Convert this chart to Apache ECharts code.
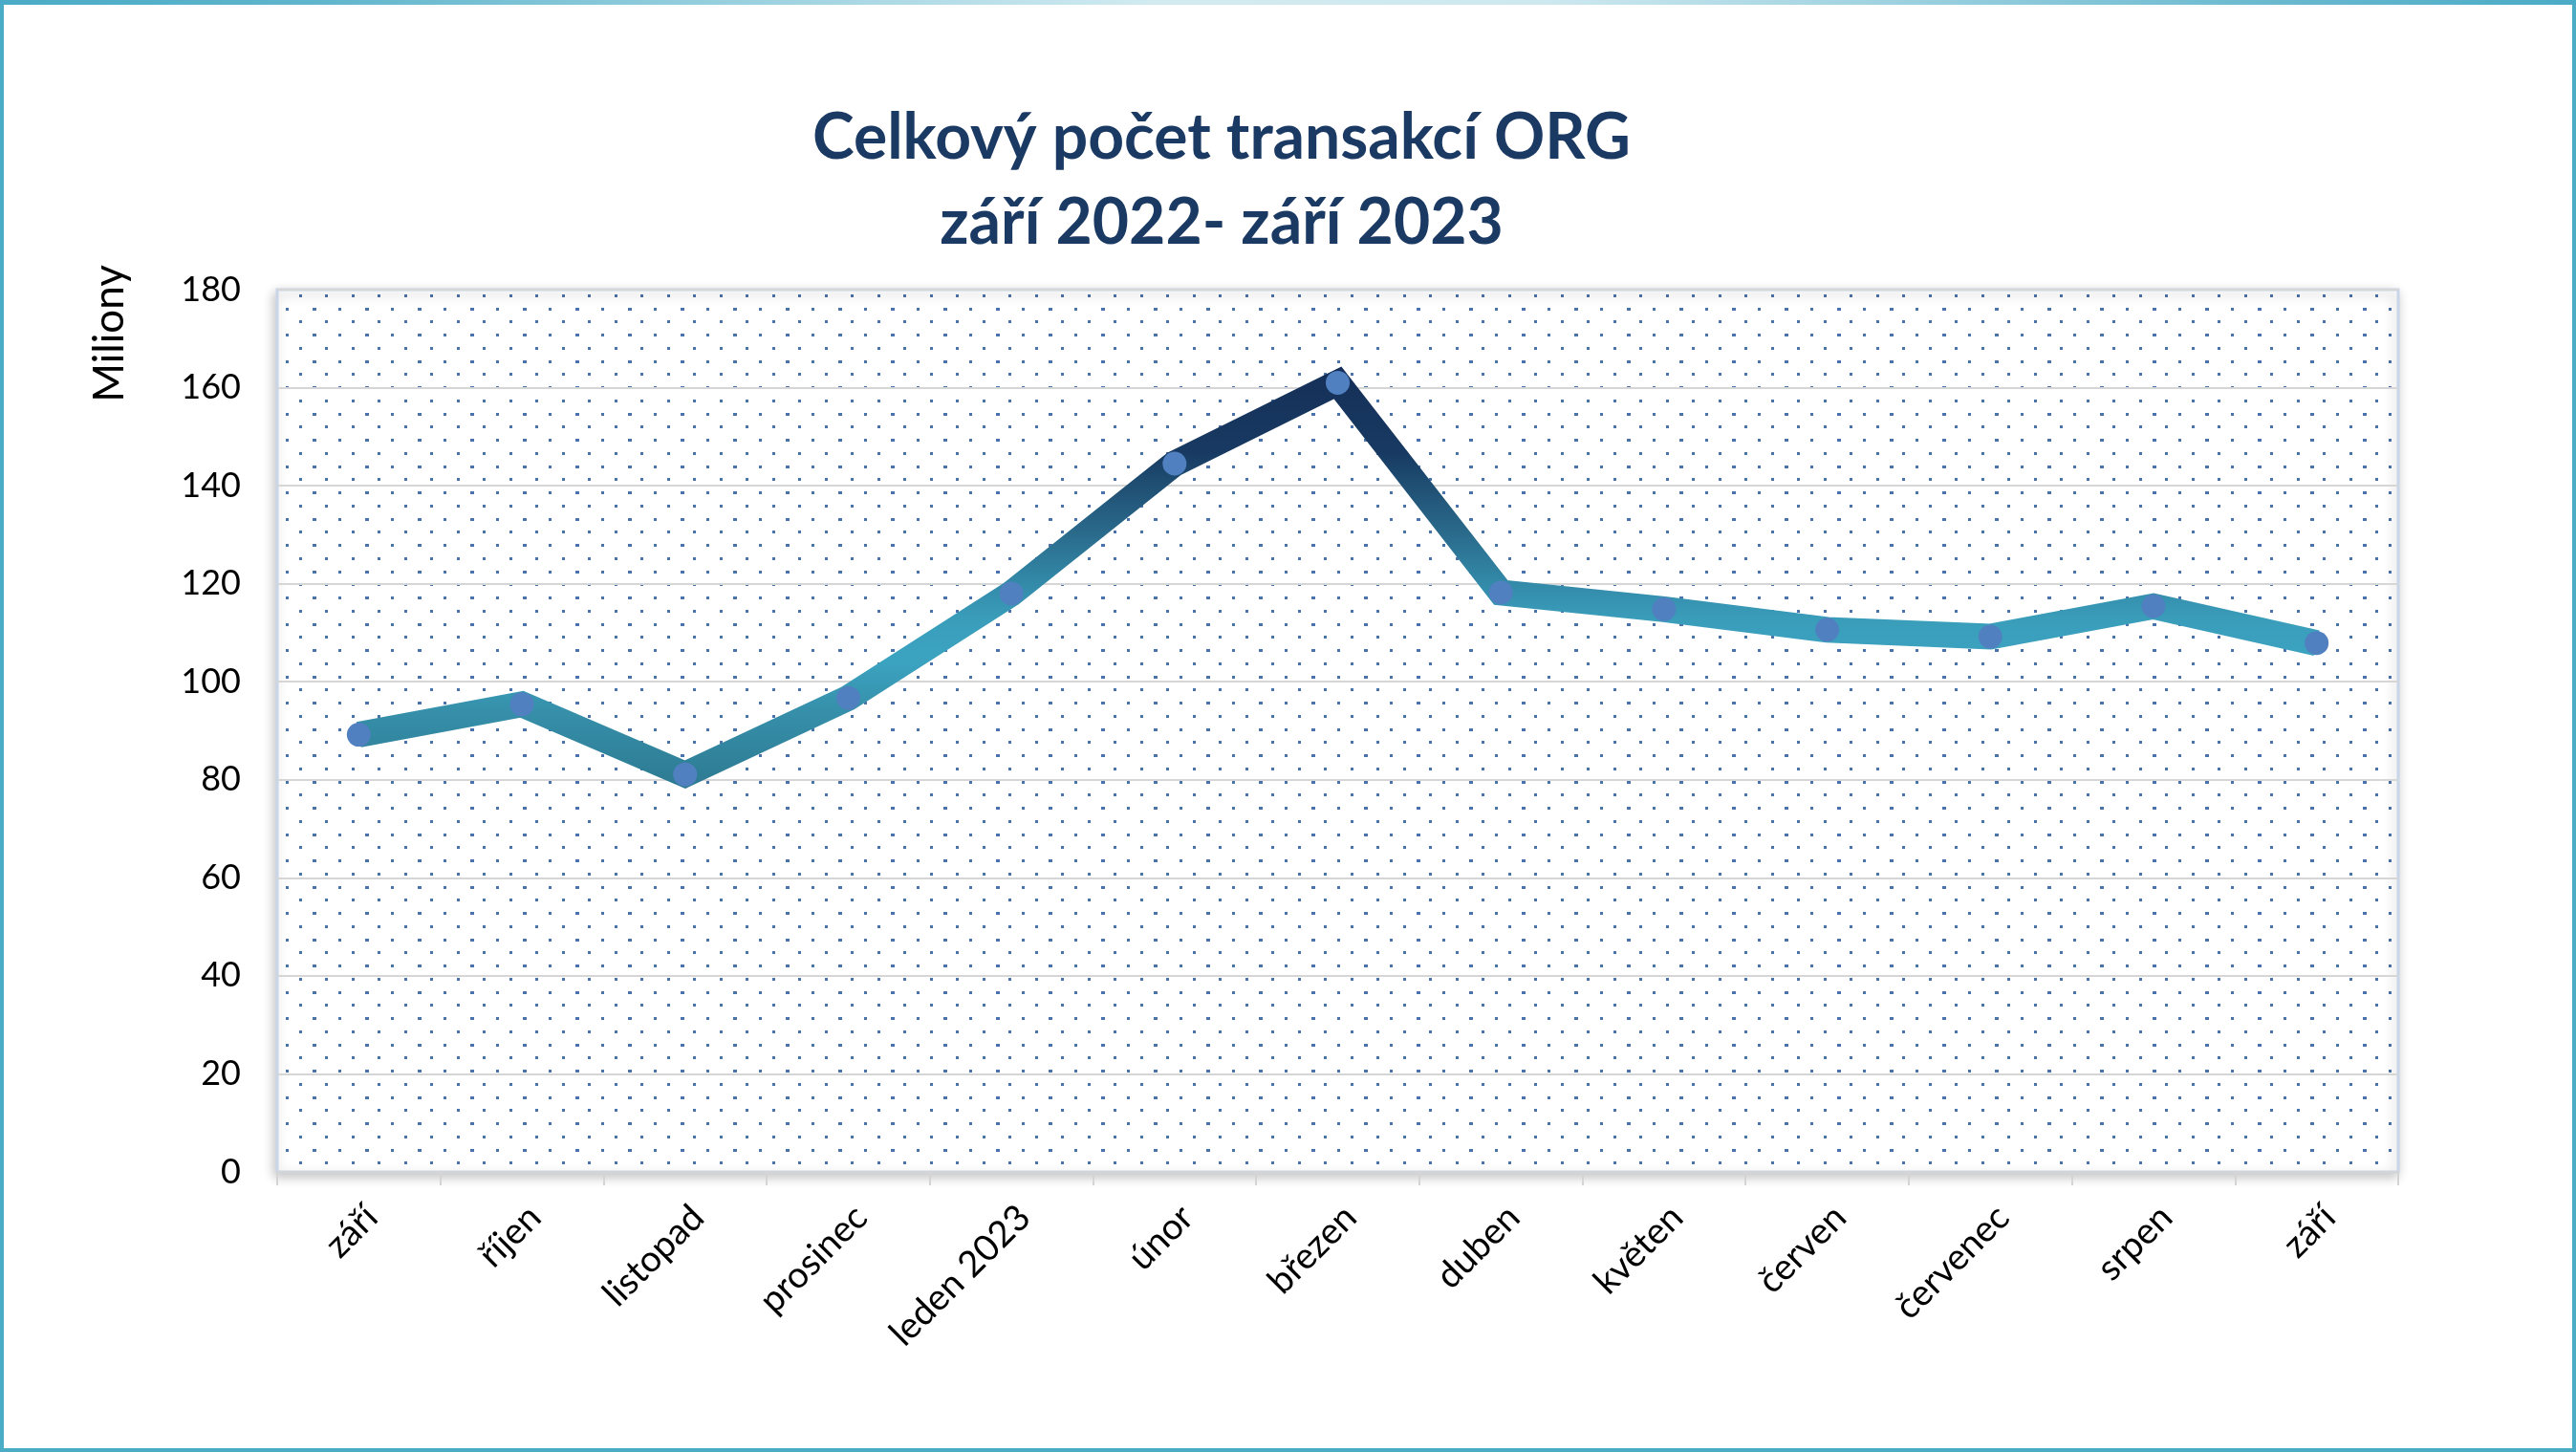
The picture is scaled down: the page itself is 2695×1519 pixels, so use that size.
<!DOCTYPE html>
<html>
<head>
<meta charset="utf-8">
<script src="https://cdn.jsdelivr.net/npm/echarts@6/dist/echarts.min.js"></script>
<style>
html,body{margin:0;padding:0;background:#fff;}
#c{width:2695px;height:1519px;}
</style>
</head>
<body>
<div id="c"></div>
<script>
const titleLines = ['Celkový počet transakcí ORG', 'září 2022- září 2023'];
const yAxisName = 'Miliony';
const categories = ['září','říjen','listopad','prosinec','leden 2023','únor','březen','duben','květen','červen','červenec','srpen','září'];
const values = [89.2, 95.4, 81.1, 96.7, 118.0, 144.5, 161.0, 118.2, 114.8, 110.6, 109.2, 115.4, 107.9];
const yMin = 0, yMax = 180, yStep = 20;

// dotted pattern tile
const tile = document.createElement('canvas');
tile.width = 55; tile.height = 55;
const tc = tile.getContext('2d');
tc.fillStyle = '#fff';
tc.fillRect(0,0,55,55);
tc.fillStyle = '#4a72ab';
const pts = [[11.8,6.8],[39.3,6.8],[25.55,20.55],[53.05,20.55],[11.8,34.3],[39.3,34.3],[25.55,48.05],[53.05,48.05]];
pts.forEach(p => { tc.fillRect(Math.round(p[0]-1.5), Math.round(p[1]-1.5), 3, 3); });
tc.fillRect(-1, Math.round(20.55-1.5), 2, 3);
tc.fillRect(-1, Math.round(48.05-1.5), 2, 3);

const chart = echarts.init(document.getElementById('c'), null, {renderer:'canvas'});
const lineGrad = new echarts.graphic.LinearGradient(0, 0, 0, 1, [
  {offset: 0, color: '#152f58'},
  {offset: 0.2, color: '#183a62'},
  {offset: 0.26, color: '#1e4b70'},
  {offset: 0.39, color: '#2a6a8b'},
  {offset: 0.5, color: '#3287a6'},
  {offset: 0.6, color: '#3a9ebb'},
  {offset: 0.7, color: '#3ba3c0'},
  {offset: 0.82, color: '#368fa9'},
  {offset: 1, color: '#2d7a92'}
]);
const option = {
  backgroundColor: '#ffffff',
  animation: false,
  title: {
    text: titleLines.join('\n'),
    left: 1273,
    top: 95,
    textAlign: 'center',
    textStyle: {
      fontFamily: 'Lato',
      fontWeight: 'bold',
      fontSize: 66,
      lineHeight: 89,
      color: '#1b3a63'
    }
  },
  grid: {
    left: 290, top: 303, right: 186, bottom: 293,
    show: true,
    backgroundColor: {image: tile, repeat: 'repeat'},
    borderColor: '#c9d5e8',
    borderWidth: 3,
    shadowBlur: 12,
    shadowColor: 'rgba(0,0,0,0.22)',
    shadowOffsetX: -2,
    shadowOffsetY: 4
  },
  xAxis: {
    type: 'category',
    data: categories,
    boundaryGap: true,
    axisLine: {show: true, lineStyle: {color: '#d4d4d4', width: 2}},
    axisTick: {show: true, length: 14, lineStyle: {color: '#d4d4d4', width: 2}},
    axisLabel: {
      rotate: 45,
      margin: 28,
      interval: 0,
      align: 'right',
      verticalAlign: 'top',
      fontFamily: 'Lato',
      fontSize: 38,
      color: '#000'
    }
  },
  yAxis: {
    type: 'value',
    min: yMin, max: yMax, interval: yStep,
    axisLine: {show: false},
    axisTick: {show: false},
    axisLabel: {margin: 38, fontFamily: 'Lato', fontSize: 36, color: '#000'},
    splitLine: {show: true, lineStyle: {color: '#d6d6d6', width: 2}}
  },
  graphic: [
    {
      type: 'text',
      x: 115, y: 349,
      rotation: Math.PI / 2,
      style: {
        text: yAxisName,
        fontFamily: 'Lato',
        fontSize: 44,
        fill: '#000',
        align: 'center',
        verticalAlign: 'middle'
      }
    },
    {
      type: 'rect',
      shape: {x: 2, y: 2, width: 2691, height: 1515},
      style: {fill: 'none', stroke: '#4bacc6', lineWidth: 4},
      silent: true
    },
    {
      type: 'rect',
      shape: {x: 0, y: 0, width: 2695, height: 5},
      style: {
        fill: new echarts.graphic.LinearGradient(0, 0, 1, 0, [
          {offset: 0, color: '#4aabc6'},
          {offset: 0.12, color: '#5fb5cc'},
          {offset: 0.45, color: '#d2ebf1'},
          {offset: 0.6, color: '#cde8ef'},
          {offset: 0.88, color: '#6ab9cf'},
          {offset: 1, color: '#4aabc6'}
        ])
      },
      silent: true
    }
  ],
  series: [{
    type: 'line',
    data: values,
    symbol: 'circle',
    symbolSize: 25,
    showSymbol: true,
    itemStyle: {color: '#5080c0'},
    lineStyle: {width: 27, color: lineGrad, join: 'miter', cap: 'butt'},
    z: 3
  }]
};
chart.setOption(option);
</script>
</body>
</html>
